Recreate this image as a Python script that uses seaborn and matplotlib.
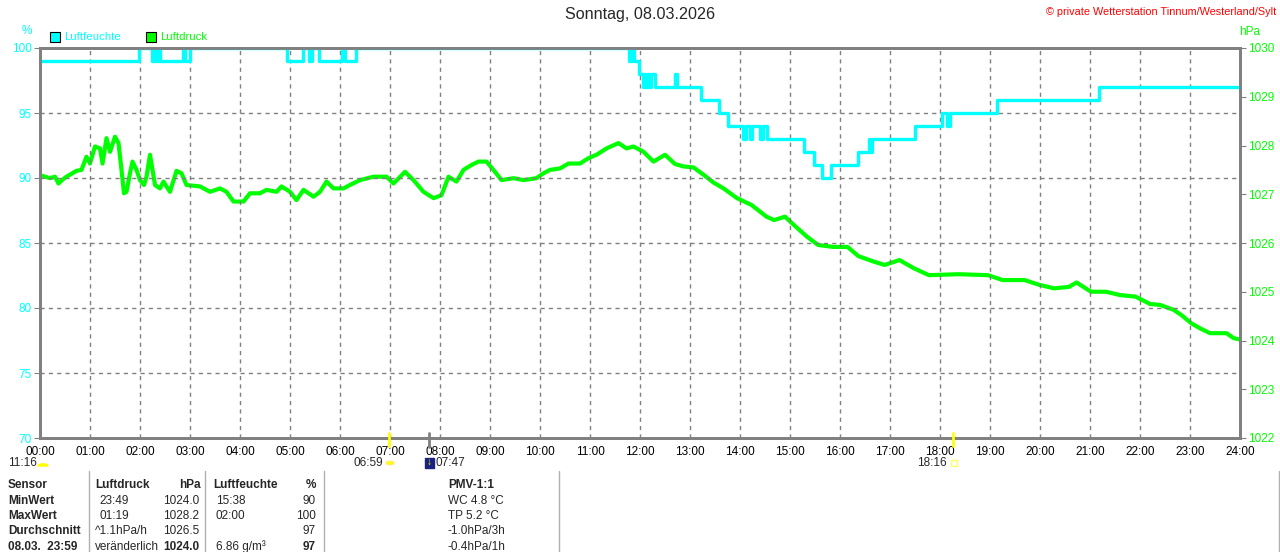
import numpy as np
import pandas as pd
import matplotlib
matplotlib.use("Agg")
import matplotlib.pyplot as plt
from matplotlib.lines import Line2D
from matplotlib.patches import Rectangle, Wedge, Circle
import seaborn as sns

# ---------------- data ----------------
hum_time = [0.00, 1.97, 2.23, 2.27, 2.31, 2.35, 2.39, 2.85, 2.90, 3.00, 4.93,
            5.25, 5.37, 5.43, 5.57, 6.03, 6.10, 6.32, 11.77, 11.83, 11.87, 11.97,
            12.05, 12.08, 12.12, 12.15, 12.20, 12.22, 12.30, 12.70, 12.74, 13.21,
            13.58, 13.75, 14.06, 14.12, 14.20, 14.24, 14.40, 14.45, 14.53, 15.27,
            15.47, 15.63, 15.81, 16.35, 16.57, 16.60, 16.64, 17.50, 18.03, 18.14,
            18.20, 19.13, 21.18, 24.00]
hum_value = [99, 100, 99, 100, 99, 100, 99, 100, 99, 100, 99,
             100, 99, 100, 99, 100, 99, 100, 99, 100, 99, 98,
             97, 98, 97, 98, 97, 98, 97, 98, 97, 96,
             95, 94, 93, 94, 93, 94, 93, 94, 93, 92,
             91, 90, 91, 92, 93, 92, 93, 94, 95, 94,
             95, 96, 97, 97]

pres_time = [0.00, 0.10, 0.20, 0.30, 0.37, 0.45, 0.53, 0.63, 0.73, 0.83, 0.93,
             1.00, 1.10, 1.20, 1.25, 1.33, 1.40, 1.50, 1.57, 1.63, 1.68, 1.73,
             1.80, 1.85, 1.93, 2.00, 2.08, 2.13, 2.20, 2.25, 2.30, 2.40, 2.47,
             2.53, 2.60, 2.73, 2.83, 2.93, 3.20, 3.40, 3.60, 3.73, 3.87, 4.07,
             4.20, 4.40, 4.53, 4.73, 4.83, 5.00, 5.13, 5.27, 5.47, 5.60, 5.73,
             5.87, 6.07, 6.20, 6.40, 6.67, 6.93, 7.07, 7.30, 7.47, 7.67, 7.87,
             8.03, 8.17, 8.33, 8.47, 8.63, 8.77, 8.93, 9.10, 9.23, 9.47, 9.67,
             9.93, 10.07, 10.20, 10.40, 10.57, 10.80, 10.97, 11.13, 11.33, 11.57,
             11.73, 11.87, 12.07, 12.27, 12.50, 12.70, 12.87, 13.07, 13.27, 13.47,
             13.67, 13.94, 14.23, 14.53, 14.68, 14.90, 15.12, 15.34, 15.56, 15.86,
             16.15, 16.37, 16.67, 16.89, 17.19, 17.48, 17.78, 18.37, 18.96, 19.25,
             19.69, 19.99, 20.28, 20.58, 20.73, 21.02, 21.32, 21.61, 21.91, 22.20,
             22.40, 22.67, 22.83, 23.03, 23.20, 23.40, 23.73, 23.87, 24.00]
pres_value = [1027.39, 1027.36, 1027.33, 1027.36, 1027.22, 1027.30, 1027.36, 1027.42, 1027.48, 1027.50, 1027.77,
              1027.63, 1027.98, 1027.94, 1027.63, 1028.15, 1027.87, 1028.18, 1028.05, 1027.50, 1027.02, 1027.05,
              1027.43, 1027.67, 1027.50, 1027.29, 1027.19, 1027.36, 1027.81, 1027.50, 1027.19, 1027.12, 1027.26,
              1027.16, 1027.05, 1027.48, 1027.43, 1027.19, 1027.16, 1027.05, 1027.12, 1027.05, 1026.85, 1026.85,
              1027.02, 1027.02, 1027.09, 1027.05, 1027.16, 1027.05, 1026.88, 1027.09, 1026.95, 1027.05, 1027.26,
              1027.12, 1027.12, 1027.19, 1027.29, 1027.36, 1027.36, 1027.22, 1027.46, 1027.29, 1027.05, 1026.92,
              1026.98, 1027.36, 1027.26, 1027.50, 1027.60, 1027.67, 1027.67, 1027.46, 1027.29, 1027.33, 1027.29,
              1027.33, 1027.43, 1027.50, 1027.53, 1027.63, 1027.63, 1027.74, 1027.81, 1027.94, 1028.05,
              1027.94, 1027.98, 1027.87, 1027.67, 1027.81, 1027.62, 1027.57, 1027.55, 1027.40, 1027.24,
              1027.12, 1026.92, 1026.78, 1026.54, 1026.47, 1026.54, 1026.33, 1026.13, 1025.96, 1025.92,
              1025.92, 1025.73, 1025.62, 1025.55, 1025.65, 1025.48, 1025.34, 1025.36, 1025.34, 1025.24,
              1025.24, 1025.14, 1025.07, 1025.10, 1025.19, 1025.00, 1025.00, 1024.93, 1024.90, 1024.75,
              1024.73, 1024.63, 1024.52, 1024.35, 1024.25, 1024.15, 1024.15, 1024.05, 1024.02]

hour_labels = [f"{h:02d}:00" for h in range(25)]
hum_ticks = [70, 75, 80, 85, 90, 95, 100]
pres_ticks = [1022, 1023, 1024, 1025, 1026, 1027, 1028, 1029, 1030]

title = "Sonntag, 08.03.2026"
copyright_text = "© private Wetterstation Tinnum/Westerland/Sylt"

table_rows = [
    ["Sensor", "Luftdruck", "hPa", "Luftfeuchte", "%", "PMV-1:1"],
    ["MinWert", "23:49", "1024.0", "15:38", "90", "WC 4.8 °C"],
    ["MaxWert", "01:19", "1028.2", "02:00", "100", "TP 5.2 °C"],
    ["Durchschnitt", "^1.1hPa/h", "1026.5", "", "97", "-1.0hPa/3h"],
    ["08.03.  23:59", "veränderlich", "1024.0", "6.86 g/m³", "97", "-0.4hPa/1h"],
]

# ---------------- style ----------------
sns.set_style("white")
plt.rcParams['font.family'] = ['Liberation Sans', 'DejaVu Sans']

CYAN = "#00ffff"
GREEN = "#00ff00"
GREY = "#808080"

W, H = 1280, 552
fig = plt.figure(figsize=(W / 100, H / 100), dpi=100)
fig.patch.set_facecolor("white")

def fx(px):
    return px / W

def fy(py):
    return 1 - py / H

ax = fig.add_axes([fx(40), fy(438), 1200 / W, 390 / H])
ax2 = ax.twinx()

hum_df = pd.DataFrame({"t": hum_time, "v": hum_value})
pres_df = pd.DataFrame({"t": pres_time, "v": pres_value})

sns.lineplot(data=pres_df, x="t", y="v", ax=ax2, color=GREEN, linewidth=3.0,
             estimator=None, sort=False)
sns.lineplot(data=hum_df, x="t", y="v", ax=ax, color=CYAN, linewidth=2.4,
             drawstyle="steps-post", estimator=None, sort=False)

ax.set_zorder(ax2.get_zorder() + 1)
ax.patch.set_visible(False)

ax.set_xlim(0, 24)
ax.set_ylim(70, 100)
ax2.set_ylim(1022, 1030)

ax.set_xticks(range(25))
ax.set_xticklabels(hour_labels, fontsize=8.5, color="black")
ax.set_yticks(hum_ticks)
ax.set_yticklabels([str(v) for v in hum_ticks], fontsize=8.5, color=CYAN)
ax2.set_yticks(pres_ticks)
ax2.set_yticklabels([str(v) for v in pres_ticks], fontsize=8.5, color=GREEN)
ax.set_xlabel("")
ax.set_ylabel("")
ax2.set_ylabel("")

ax.tick_params(axis="x", length=0, pad=6)
ax.tick_params(axis="y", length=4, color=GREY, pad=2)
ax2.tick_params(axis="y", length=4, color=GREY, pad=2)

ax.grid(True, color=GREY, linestyle=(0, (3, 3)), linewidth=1)
ax2.grid(False)
for a in (ax, ax2):
    for s in a.spines.values():
        s.set_color(GREY)
        s.set_linewidth(2)

# ---------------- header texts ----------------
fig.text(0.5, fy(15), title, ha="center", va="center", fontsize=11.6)
fig.text(fx(1276), fy(12), copyright_text, ha="right", va="center",
         fontsize=7.8, color="red")
fig.text(fx(27), fy(31), "%", ha="center", va="center", fontsize=8.5, color=CYAN)
fig.text(fx(1250), fy(32), "hPa", ha="center", va="center", fontsize=8.5, color=GREEN)

fig.patches.append(Rectangle((fx(50), fy(42)), 10 / W, 10 / H, transform=fig.transFigure,
                             facecolor=CYAN, edgecolor="black", linewidth=0.8))
fig.text(fx(64), fy(37), "Luftfeuchte", ha="left", va="center", fontsize=8.2, color=CYAN)
fig.patches.append(Rectangle((fx(146), fy(42)), 10 / W, 10 / H, transform=fig.transFigure,
                             facecolor=GREEN, edgecolor="black", linewidth=0.8))
fig.text(fx(160), fy(37), "Luftdruck", ha="left", va="center", fontsize=8.2, color=GREEN)

# ---------------- sun / moon markers ----------------
for t, col in [(6 + 59 / 60, "#ffff00"), (18 + 16 / 60, "#ffff00")]:
    xp = 40 + t * 50
    fig.lines.append(Line2D([fx(xp), fx(xp)], [fy(433), fy(446)], transform=fig.transFigure,
                            color=col, linewidth=2))
xp = 40 + (7 + 47 / 60) * 50
fig.lines.append(Line2D([fx(xp), fx(xp)], [fy(433), fy(447)], transform=fig.transFigure,
                        color=GREY, linewidth=2))

fig.text(fx(37), fy(463), "11:16", ha="right", va="center", fontsize=8.5)
fig.patches.append(Wedge((fx(43), fy(466)), 5 / W, 0, 180, transform=fig.transFigure,
                         facecolor="#ffff00", edgecolor="#ffff00"))
fig.text(fx(383), fy(463), "06:59", ha="right", va="center", fontsize=8.5)
fig.patches.append(Circle((fx(390), fy(463)), 4 / W, transform=fig.transFigure,
                          facecolor="#ffff00", edgecolor="#ffee66"))
fig.patches.append(Rectangle((fx(425), fy(468)), 9 / W, 10 / H, transform=fig.transFigure,
                             facecolor="#1a237e", edgecolor="#1a237e"))
fig.text(fx(429), fy(462), "↓", ha="center", va="center", fontsize=7, color="#ffff00",
         fontweight="bold")
fig.text(fx(435), fy(463), "07:47", ha="left", va="center", fontsize=8.5)
fig.text(fx(947), fy(463), "18:16", ha="right", va="center", fontsize=8.5)
fig.patches.append(Rectangle((fx(951), fy(466)), 6 / W, 6 / H, transform=fig.transFigure,
                             facecolor="none", edgecolor="#ffff66", linewidth=1))

# ---------------- table ----------------
for xv in [89, 205, 324, 559, 1279]:
    fig.lines.append(Line2D([fx(xv), fx(xv)], [fy(471), fy(552)], transform=fig.transFigure,
                            color="#b0b0b0", linewidth=1))

row_y = [485, 500.5, 516, 531.5, 547]
for i, row in enumerate(table_rows):
    y = fy(row_y[i])
    hdr = i == 0
    last = i == len(table_rows) - 1
    fig.text(fx(8), y, row[0], ha="left", va="center", fontsize=8.5, fontweight="bold")
    if hdr:
        fig.text(fx(95), y, row[1], ha="left", va="center", fontsize=8.5, fontweight="bold")
        fig.text(fx(201), y, row[2], ha="right", va="center", fontsize=8.5, fontweight="bold")
        fig.text(fx(213), y, row[3], ha="left", va="center", fontsize=8.5, fontweight="bold")
        fig.text(fx(316), y, row[4], ha="right", va="center", fontsize=8.5, fontweight="bold")
        fig.text(fx(471), y, row[5], ha="center", va="center", fontsize=8.5, fontweight="bold")
    else:
        x1 = 95 if (i == 3 or last) else 99
        fig.text(fx(x1), y, row[1], ha="left", va="center", fontsize=8.5)
        fig.text(fx(199), y, row[2], ha="right", va="center", fontsize=8.5,
                 fontweight="bold" if last else "normal")
        fig.text(fx(216), y, row[3], ha="left", va="center", fontsize=8.5)
        fig.text(fx(316), y, row[4], ha="right", va="center", fontsize=8.5,
                 fontweight="bold" if last else "normal")
        fig.text(fx(448), y, row[5], ha="left", va="center", fontsize=8.5)

fig.savefig("out.png", dpi=100, facecolor="white")
